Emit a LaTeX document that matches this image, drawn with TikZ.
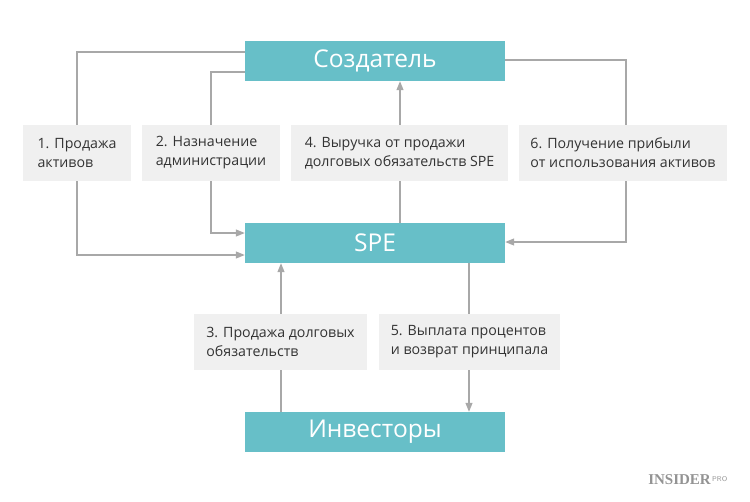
\documentclass[tikz,border=0pt]{standalone}
\usepackage{fontspec}
\setmainfont{Open Sans}
\newfontfamily\logofont{Liberation Serif}
\usetikzlibrary{arrows.meta}
\definecolor{teal1}{HTML}{67BFC8}
\definecolor{lab}{HTML}{F0F0F0}
\definecolor{ln}{HTML}{A8A8A8}
\definecolor{txt}{HTML}{333333}
\begin{document}
\begin{tikzpicture}[x=1pt,y=-1pt,
  main/.style={fill=teal1,draw=none,text=white,minimum width=260pt,minimum height=40pt,inner sep=0pt,font=\fontsize{24.5}{26}\selectfont},
  lbl/.style={fill=lab,draw=none,text=txt,minimum height=56pt,inner sep=0pt,align=left,font=\fontsize{14.2}{19}\selectfont},
  con/.style={draw=ln,line width=1.2pt},
  arr/.style={con,-{Triangle[length=9pt,width=7pt]}}]
\useasboundingbox (0,0) rectangle (750,501);
\node[main] (cr) at (375,61) {Создатель};
\node[main] (spe) at (375,243) {SPE};
\node[main] (inv) at (375,432) {Инвесторы};
\node[lbl,minimum width=108pt] (l1) at (77,153) {1. Продажа\\активов};
\node[lbl,minimum width=138pt] (l2) at (211,153) {2. Назначение\\администрации};
\node[lbl,minimum width=217pt] (l4) at (399.5,153) {4. Выручка от продажи\\долговых обязательств SPE};
\node[lbl,minimum width=208pt] (l6) at (623,153) {6. Получение прибыли\\от использования активов};
\node[lbl,minimum width=173pt] (l3) at (280.5,342) {3. Продажа долговых\\обязательств};
\node[lbl,minimum width=181pt] (l5) at (469.5,342) {5. Выплата процентов\\и возврат принципала};
% 1
\draw[con] (cr.west |- 0,52) -| (l1.north);
\draw[arr] (l1.south) |- (spe.west |- 0,255);
% 2
\draw[con] (cr.west |- 0,72) -| (l2.north);
\draw[arr] (l2.south) |- (spe.west |- 0,233);
% 4
\draw[con] (spe.north -| 400,0) -- (l4.south -| 400,0);
\draw[arr] (l4.north -| 400,0) -- (cr.south -| 400,0);
% 6
\draw[con] (cr.east |- 0,60) -| (l6.north -| 626,0);
\draw[arr] (l6.south -| 626,0) |- (spe.east |- 0,242);
% 3
\draw[con] (inv.north -| 281,0) -- (l3.south -| 281,0);
\draw[arr] (l3.north -| 281,0) -- (spe.south -| 281,0);
% 5
\draw[con] (spe.south -| 469,0) -- (l5.north -| 469,0);
\draw[arr] (l5.south -| 469,0) -- (inv.north -| 469,0);
% logo
\node[anchor=east,inner sep=0pt,text=gray!85,font=\logofont\bfseries\fontsize{15}{15}\selectfont] (logo) at (711,480) {INSIDER};
\node[anchor=west,inner sep=0pt,text=gray!85,font=\sffamily\fontsize{7}{7}\selectfont] (pro) at (712,479) {PRO};
\end{tikzpicture}
\end{document}
